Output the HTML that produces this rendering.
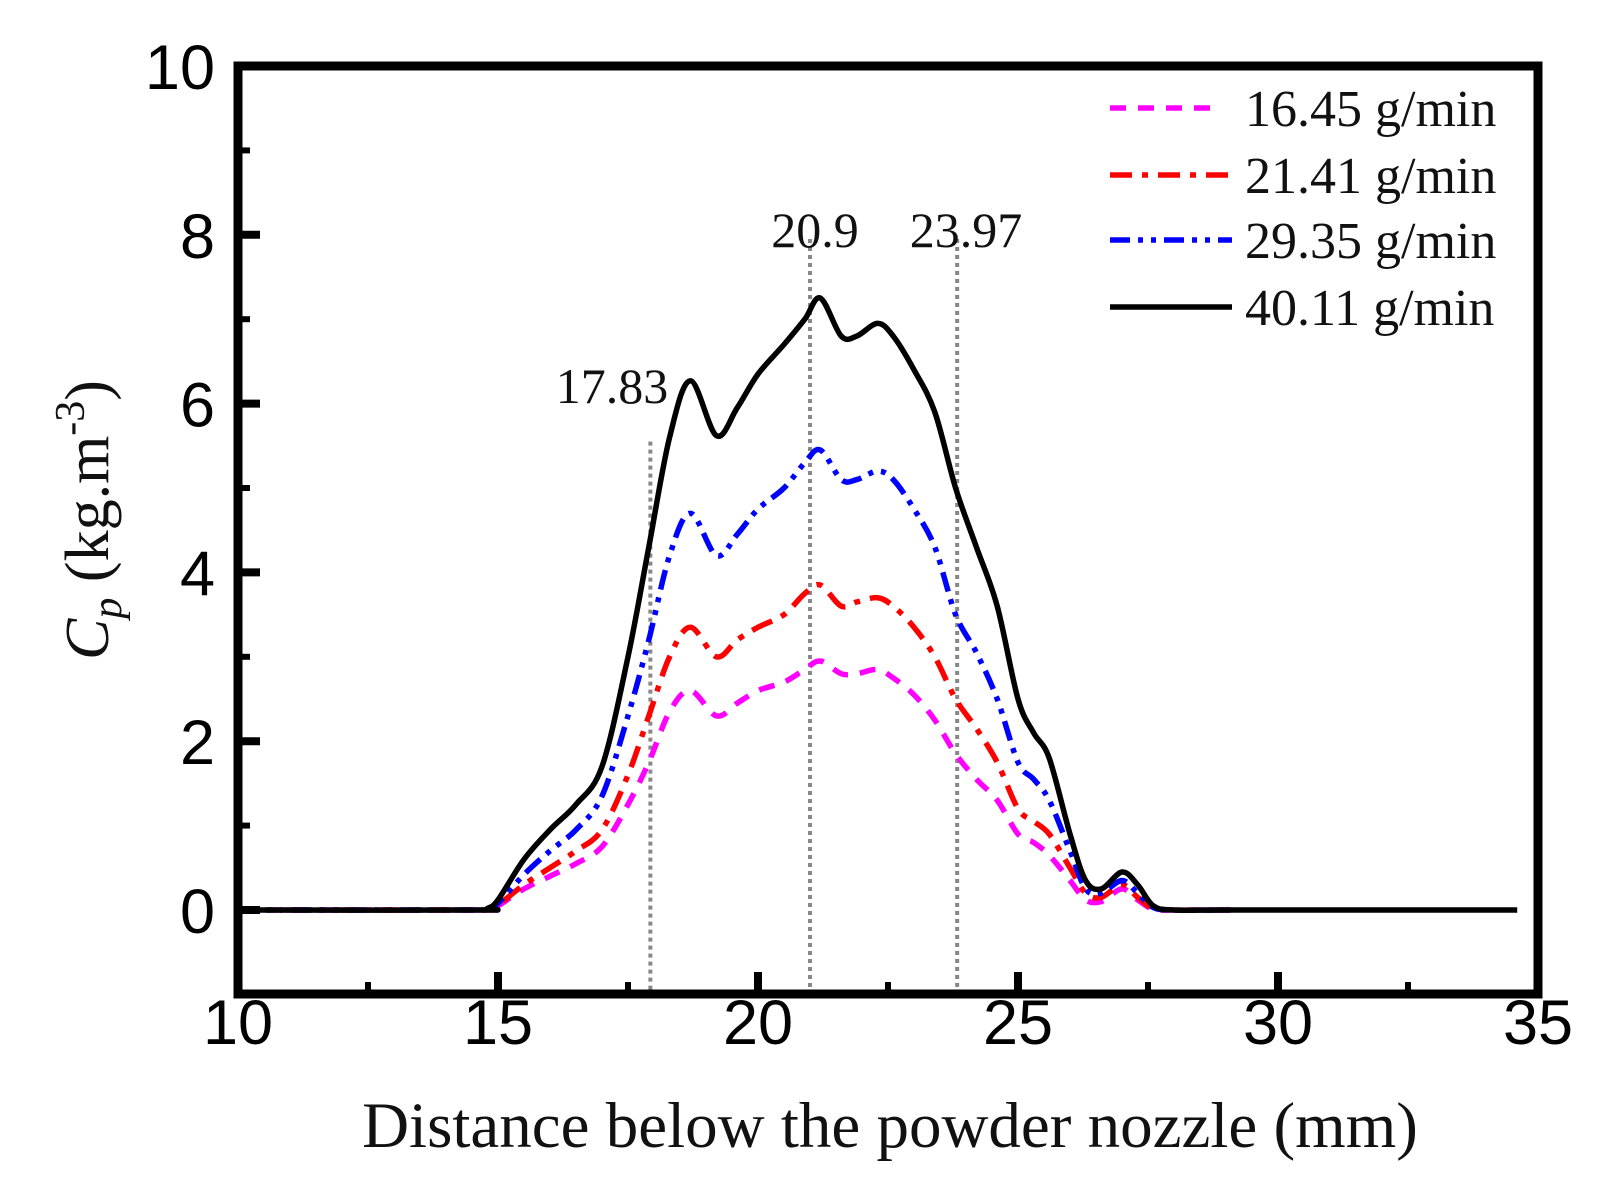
<!DOCTYPE html>
<html><head><meta charset="utf-8"><style>
html,body{margin:0;padding:0;background:#fff}
svg{display:block}
</style></head><body>
<svg id="chart" width="1606" height="1183" viewBox="0 0 1606 1183" xmlns="http://www.w3.org/2000/svg">
<g id="plot"></g>
</svg>
<script>
const xs = [10,14.6,14.8,15.0,15.5,16.0,16.5,17.0,17.5,17.9,18.3,18.7,19.2,19.6,20.0,20.5,20.9,21.2,21.6,21.9,22.3,22.6,23.0,23.4,23.8,24.2,24.6,25.0,25.3,25.6,26.0,26.3,26.6,27.0,27.3,27.6,28.0,29.0];
const black = [0,0,0.02,0.12,0.6,0.95,1.25,1.7,3.0,4.3,5.6,6.27,5.62,5.95,6.35,6.7,7.0,7.25,6.8,6.8,6.95,6.8,6.4,5.9,5.0,4.3,3.6,2.5,2.1,1.8,0.9,0.35,0.25,0.45,0.3,0.05,0,0];
const blue = [0,0,0.01,0.08,0.42,0.7,0.95,1.35,2.3,3.2,4.2,4.7,4.2,4.45,4.75,5.0,5.3,5.45,5.1,5.1,5.2,5.1,4.75,4.3,3.5,3.05,2.5,1.75,1.55,1.3,0.7,0.25,0.2,0.35,0.2,0.03,0,0];
const red = [0,0,0.01,0.06,0.3,0.5,0.7,0.95,1.6,2.3,3.0,3.35,3.0,3.2,3.35,3.5,3.75,3.85,3.6,3.65,3.7,3.6,3.35,3.0,2.5,2.15,1.75,1.2,1.05,0.9,0.5,0.2,0.15,0.3,0.15,0.02,0,0];
const magenta = [0,0,0.01,0.05,0.25,0.4,0.55,0.75,1.25,1.75,2.35,2.6,2.3,2.45,2.6,2.7,2.85,2.95,2.8,2.8,2.85,2.75,2.55,2.25,1.85,1.55,1.3,0.9,0.8,0.65,0.35,0.12,0.1,0.25,0.12,0.01,0,0];
const xTicks = [10,15,20,25,30,35];
const yTicks = [0,2,4,6,8,10];
const markerX = [17.93,21.0,23.83];
const markerLabels = ["17.83","20.9","23.97"];
const markerTop = [5.55,7.95,7.95];
const legendLabels = ["16.45 g/min","21.41 g/min","29.35 g/min","40.11 g/min"];

const L=238,R=1538,T=66,B=994;
const xScale=v=>L+(v-10)*(R-L)/25;
const yScale=v=>910-v*84.4;
const NS="http://www.w3.org/2000/svg";
const svg=document.getElementById('chart');
function mk(tag,attrs,parent){const e=document.createElementNS(NS,tag);for(const k in attrs)e.setAttribute(k,attrs[k]);(parent||svg).appendChild(e);return e;}
function smooth(px,py){let d=`M${px[0]},${py[0]}`;for(let i=0;i<px.length-1;i++){const x0=px[Math.max(0,i-1)],y0=py[Math.max(0,i-1)],x1=px[i],y1=py[i],x2=px[i+1],y2=py[i+1],x3=px[Math.min(px.length-1,i+2)],y3=py[Math.min(px.length-1,i+2)];const c1x=x1+(x2-x0)/6,c1y=y1+(y2-y0)/6,c2x=x2-(x3-x1)/6,c2y=y2-(y3-y1)/6;d+=` C${c1x},${c1y} ${c2x},${c2y} ${x2},${y2}`;}return d;}

markerX.forEach((m,i)=>{
  const ln=mk('line',{x1:xScale(m),x2:xScale(m),y1:yScale(markerTop[i]),y2:B,stroke:'#888','stroke-width':4,'stroke-dasharray':'4,4'});
  
  
});
const mlx=[612,815,966], mly=[403,247,247];
markerLabels.forEach((t,i)=>{
  const tx=mk('text',{x:mlx[i],y:mly[i],'text-anchor':'middle','font-family':'Liberation Serif, serif','font-size':50,fill:'#111'});
  tx.textContent=t;
  
  
});

const series=[
 {d:magenta,c:'#ff00ff',dash:'16,12',name:'series-16-45',end:29.0},
 {d:red,c:'#ff0000',dash:'22,10,6,10',name:'series-21-41',end:29.0},
 {d:blue,c:'#0000ff',dash:'20,8,5,8,5,8',name:'series-29-35',end:29.0},
 {d:black,c:'#000',dash:'',name:'series-40-11',end:34.6}
];
series.forEach(s=>{
  const px=xs.map(xScale).concat([xScale(s.end)]);
  const py=s.d.map(yScale).concat([yScale(0)]);
  const p=mk('path',{d:smooth(px,py),fill:'none',stroke:s.c,'stroke-width':5.5,'stroke-dasharray':s.dash,'stroke-linejoin':'round'});
  
  
});

const fr=mk('rect',{x:L,y:T,width:R-L,height:B-T,fill:'none',stroke:'#000','stroke-width':9});



xTicks.forEach(v=>{
  const t=mk('line',{x1:xScale(v),x2:xScale(v),y1:B,y2:B-22,stroke:'#000','stroke-width':8});
  
  
  const tm=mk('line',{x1:xScale(v+2.5),x2:xScale(v+2.5),y1:B,y2:B-12,stroke:'#000','stroke-width':6});
  
  
  const lb=mk('text',{x:xScale(v),y:1044,'text-anchor':'middle','font-family':'Liberation Sans, sans-serif','font-size':63,fill:'#000'});
  lb.textContent=v;
  
  
});
yTicks.forEach(v=>{
  const t=mk('line',{x1:L,x2:L+22,y1:yScale(v),y2:yScale(v),stroke:'#000','stroke-width':8});
  
  
  const tm=mk('line',{x1:L,x2:L+12,y1:yScale(v+1),y2:yScale(v+1),stroke:'#000','stroke-width':6});
  
  
  const lb=mk('text',{x:215,y:yScale(v)+23,'text-anchor':'end','font-family':'Liberation Sans, sans-serif','font-size':63,fill:'#000'});
  lb.textContent=v;
  
  
});

const legY=[108,175,240,307];
legendLabels.forEach((t,i)=>{
  const s=series[i];
  const ln=mk('line',{x1:1110,x2:i==0?1222:1232,y1:legY[i],y2:legY[i],stroke:s.c,'stroke-width':5.5,'stroke-dasharray':s.dash});
  
  
  const tx=mk('text',{x:1245,y:legY[i]+18,'font-family':'Liberation Serif, serif','font-size':52,fill:'#111'});
  tx.textContent=t;
  
  
});
</script>
<svg style="position:absolute;left:0;top:0" width="1606" height="1183">
<text x="890" y="1147" text-anchor="middle" font-family="Liberation Serif, serif" font-size="65" fill="#111">Distance below the powder nozzle (mm)</text>
<text transform="translate(108,520) rotate(-90)" text-anchor="middle" font-family="Liberation Serif, serif" font-size="62" fill="#111"><tspan font-style="italic">C</tspan><tspan font-style="italic" font-size="42" dy="13">p</tspan><tspan dy="-13"> (kg.m</tspan><tspan font-size="42" dy="-24">-3</tspan><tspan dy="24">)</tspan></text>
</svg>
</body></html>
